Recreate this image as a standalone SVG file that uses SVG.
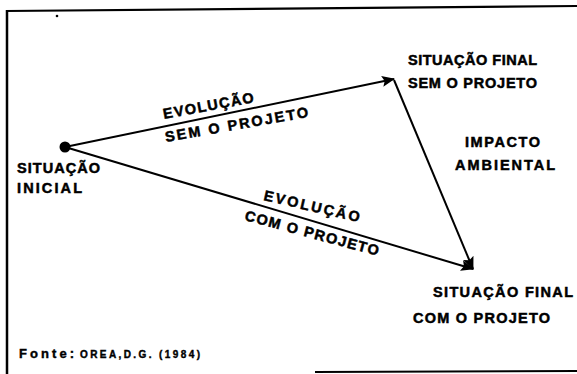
<svg xmlns="http://www.w3.org/2000/svg" width="577" height="374" viewBox="0 0 577 374">
  <style>
    .lbl { font-family: "Liberation Sans", Arial, sans-serif; font-weight: bold; font-size: 14.5px; fill: #000; stroke: #000; stroke-width: 0.5; }
    .src { font-family: "Liberation Sans", Arial, sans-serif; font-weight: bold; fill: #000; stroke: #000; stroke-width: 0.4; }
    .frame { stroke: #000; fill: none; }
    .edge { stroke: #000; stroke-width: 2; fill: none; }
  </style>
  <defs>
    <marker id="arrow" viewBox="0 0 13 11" refX="12" refY="5.5" markerWidth="13" markerHeight="11" markerUnits="userSpaceOnUse" orient="auto">
      <path d="M0,0 L13,5.5 L0,11 L2.5,5.5 Z" fill="#000"/>
    </marker>
  </defs>
  <rect width="577" height="374" fill="#fff"/>

  <!-- outer frame -->
  <g id="frame">
    <line class="frame" x1="7" y1="10" x2="7" y2="374" stroke-width="2.5"/>
    <line class="frame" x1="6" y1="11" x2="577" y2="6" stroke-width="2.2"/>
    <line class="frame" x1="315" y1="372" x2="577" y2="371" stroke-width="2"/>
    <circle cx="57" cy="16" r="1.3" fill="#000"/>
  </g>

  <!-- connectors -->
  <g id="connectors">
    <line class="edge" x1="65" y1="147" x2="394" y2="79" marker-end="url(#arrow)"/>
    <line class="edge" x1="394" y1="80" x2="473" y2="269" marker-end="url(#arrow)"/>
    <line class="edge" x1="65" y1="147" x2="473" y2="269" marker-end="url(#arrow)"/>
  </g>

  <!-- edge labels -->
  <g id="label-sem">
    <text class="lbl" transform="translate(164,119) rotate(-10.5)" textLength="92" lengthAdjust="spacing">EVOLUÇÃO</text>
    <text class="lbl" transform="translate(166,142) rotate(-10)" textLength="145" lengthAdjust="spacing">SEM O PROJETO</text>
  </g>
  <g id="label-com">
    <text class="lbl" transform="translate(263,200) rotate(13)" textLength="98" lengthAdjust="spacing">EVOLUÇÃO</text>
    <text class="lbl" transform="translate(244,220) rotate(15)" textLength="138" lengthAdjust="spacing">COM O PROJETO</text>
  </g>

  <!-- nodes -->
  <g id="node-inicial">
    <circle cx="65" cy="147" r="5.5" fill="#000"/>
    <text class="lbl" x="17" y="173" textLength="83" lengthAdjust="spacing">SITUAÇÃO</text>
    <text class="lbl" x="17" y="193" textLength="65" lengthAdjust="spacing">INICIAL</text>
  </g>
  <g id="node-final-sem">
    <text class="lbl" x="408" y="65" textLength="129" lengthAdjust="spacing">SITUAÇÃO FINAL</text>
    <text class="lbl" x="408" y="88" textLength="129" lengthAdjust="spacing">SEM O PROJETO</text>
  </g>
  <g id="node-impacto">
    <text class="lbl" x="465" y="147" textLength="75" lengthAdjust="spacing">IMPACTO</text>
    <text class="lbl" x="455" y="170" textLength="100" lengthAdjust="spacing">AMBIENTAL</text>
  </g>
  <g id="node-final-com">
    <text class="lbl" x="433" y="297" textLength="140" lengthAdjust="spacing">SITUAÇÃO FINAL</text>
    <text class="lbl" x="413" y="323" textLength="137" lengthAdjust="spacing">COM O PROJETO</text>
  </g>

  <!-- source note -->
  <g id="source">
    <text class="src" x="19" y="358" font-size="13" textLength="55" lengthAdjust="spacing">Fonte:</text>
    <text class="src" x="80" y="358" font-size="10" textLength="120" lengthAdjust="spacing">OREA,D.G. (1984)</text>
  </g>
</svg>
